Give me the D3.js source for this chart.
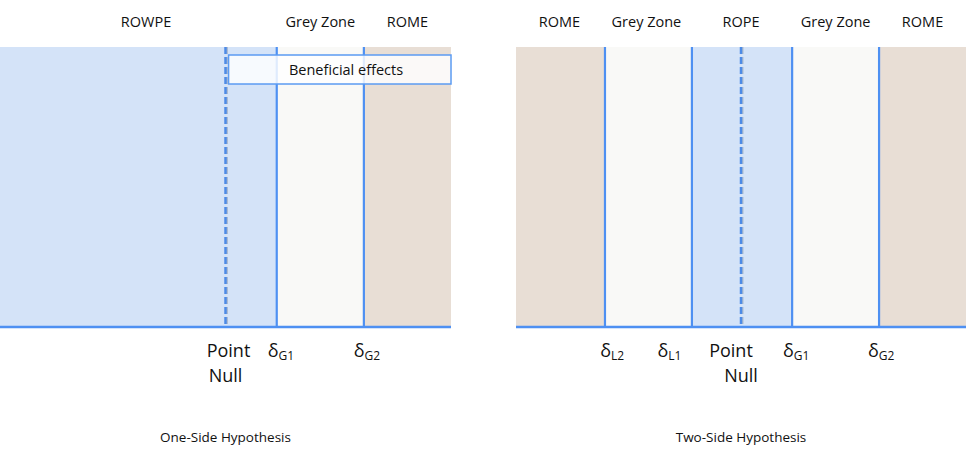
<!DOCTYPE html>
<html>
<head>
<meta charset="utf-8">
<script src="https://cdn.jsdelivr.net/npm/d3@7"></script>
<style>
    body { margin: 0; background: #fff; }
    svg { display: block; font-family: "Open Sans", "Noto Sans", sans-serif; }
</style>
</head>
<body>
<svg id="chart" width="969" height="451"></svg>
<script>
// effect-size axis, same for both panels
const effectDomain = [-4.4, 4.4];
const pointNull = 0;

// one-side hypothesis
const oneSideZones = [
    { name: "ROWPE", kind: "rope", from: -4.4, to: 1, labelAt: -1.55 },
    { name: "Grey Zone", kind: "grey", from: 1, to: 2.7, labelAt: 1.85 },
    { name: "ROME", kind: "rome", from: 2.7, to: 4.4, labelAt: 3.55 }
];
const oneSideBounds = [1, 2.7];
const oneSideTicks = [
    { main: "δ", sub: "G1", at: 1.08 },
    { main: "δ", sub: "G2", at: 2.76 }
];

// two-side hypothesis
const twoSideZones = [
    { name: "ROME", kind: "rome", from: -4.4, to: -2.66, labelAt: -3.55 },
    { name: "Grey Zone", kind: "grey", from: -2.66, to: -0.96, labelAt: -1.85 },
    { name: "ROPE", kind: "rope", from: -0.96, to: 1, labelAt: 0 },
    { name: "Grey Zone", kind: "grey", from: 1, to: 2.7, labelAt: 1.85 },
    { name: "ROME", kind: "rome", from: 2.7, to: 4.4, labelAt: 3.55 }
];
const twoSideBounds = [-2.66, -0.96, 1, 2.7];
const twoSideTicks = [
    { main: "δ", sub: "L2", at: -2.52 },
    { main: "δ", sub: "L1", at: -1.4 },
    { main: "δ", sub: "G1", at: 1.08 },
    { main: "δ", sub: "G2", at: 2.74 }
];

const zoneColor = d3.scaleOrdinal()
    .domain(["rope", "grey", "rome"])
    .range(["#d4e3f8", "#f9f9f7", "#e8ded5"]);

const lineColor = "#4e90f2";
const svg = d3.select("#chart");

const plotTop = 47, plotBottom = 327;

function drawPanel(opts) {
    const x = d3.scaleLinear().domain(effectDomain).range(opts.range);
    const g = svg.append("g");

    // zone fills
    g.selectAll("rect.zone")
        .data(opts.zones)
        .join("rect")
        .attr("class", "zone")
        .attr("x", d => x(d.from))
        .attr("y", plotTop)
        .attr("width", d => x(d.to) - x(d.from))
        .attr("height", plotBottom - plotTop)
        .attr("fill", d => zoneColor(d.kind));

    // zone labels above
    g.selectAll("text.zone-label")
        .data(opts.zones)
        .join("text")
        .attr("class", "zone-label")
        .attr("x", d => x(d.labelAt))
        .attr("y", 27)
        .attr("text-anchor", "middle")
        .attr("font-size", 14.5)
        .attr("fill", "#111")
        .text(d => d.name);

    // point null, dashed with soft shadow
    g.append("line")
        .attr("x1", x(pointNull) + 1.2).attr("x2", x(pointNull) + 1.2)
        .attr("y1", plotTop).attr("y2", plotBottom)
        .attr("stroke", "#8d99ab")
        .attr("stroke-width", 2.5)
        .attr("stroke-dasharray", "7,3")
        .attr("opacity", 0.55);
    g.append("line")
        .attr("x1", x(pointNull)).attr("x2", x(pointNull))
        .attr("y1", plotTop).attr("y2", plotBottom)
        .attr("stroke", "#4d8be6")
        .attr("stroke-width", 2.5)
        .attr("stroke-dasharray", "7,3");

    // solid boundaries
    g.selectAll("line.bound")
        .data(opts.bounds)
        .join("line")
        .attr("class", "bound")
        .attr("x1", d => x(d)).attr("x2", d => x(d))
        .attr("y1", plotTop).attr("y2", plotBottom)
        .attr("stroke", lineColor)
        .attr("stroke-width", 2.2);

    // baseline
    g.append("line")
        .attr("x1", opts.baseFrom).attr("x2", opts.range[1])
        .attr("y1", plotBottom).attr("y2", plotBottom)
        .attr("stroke", lineColor)
        .attr("stroke-width", 2.5);

    // delta tick labels
    const tick = g.selectAll("text.tick")
        .data(opts.ticks)
        .join("text")
        .attr("class", "tick")
        .attr("x", d => x(d.at))
        .attr("y", 357)
        .attr("text-anchor", "middle")
        .attr("fill", "#111");
    tick.append("tspan").attr("font-size", 18).text(d => d.main);
    tick.append("tspan").attr("font-size", 12).attr("dy", 3).text(d => d.sub);

    // point null label
    const nullLabel = g.append("text")
        .attr("text-anchor", "middle")
        .attr("font-size", 18)
        .attr("fill", "#111");
    nullLabel.append("tspan").attr("x", x(pointNull) + opts.pointShift).attr("y", 357).text("Point");
    nullLabel.append("tspan").attr("x", x(pointNull)).attr("y", 382).text("Null");

    // panel title
    g.append("text")
        .attr("x", x(0))
        .attr("y", 442)
        .attr("text-anchor", "middle")
        .attr("font-size", 13.5)
        .attr("fill", "#111")
        .text(opts.title);

    return x;
}

const xOne = drawPanel({
    range: [0, 451], baseFrom: 0,
    zones: oneSideZones, bounds: oneSideBounds, ticks: oneSideTicks,
    pointShift: 3, title: "One-Side Hypothesis"
});

drawPanel({
    range: [516, 966], baseFrom: 516,
    zones: twoSideZones, bounds: twoSideBounds, ticks: twoSideTicks,
    pointShift: -10, title: "Two-Side Hypothesis"
});

// "Beneficial effects" callout over the one-side panel
const boxFrom = 0.06;
svg.append("rect")
    .attr("x", xOne(boxFrom))
    .attr("y", 55)
    .attr("width", xOne(effectDomain[1]) - xOne(boxFrom))
    .attr("height", 29)
    .attr("fill", "#ffffff")
    .attr("fill-opacity", 0.82)
    .attr("stroke", "#5b9bf2")
    .attr("stroke-width", 1.5);
svg.append("text")
    .attr("x", 346)
    .attr("y", 75)
    .attr("text-anchor", "middle")
    .attr("font-size", 14.5)
    .attr("fill", "#111")
    .text("Beneficial effects");
</script>
</body>
</html>
